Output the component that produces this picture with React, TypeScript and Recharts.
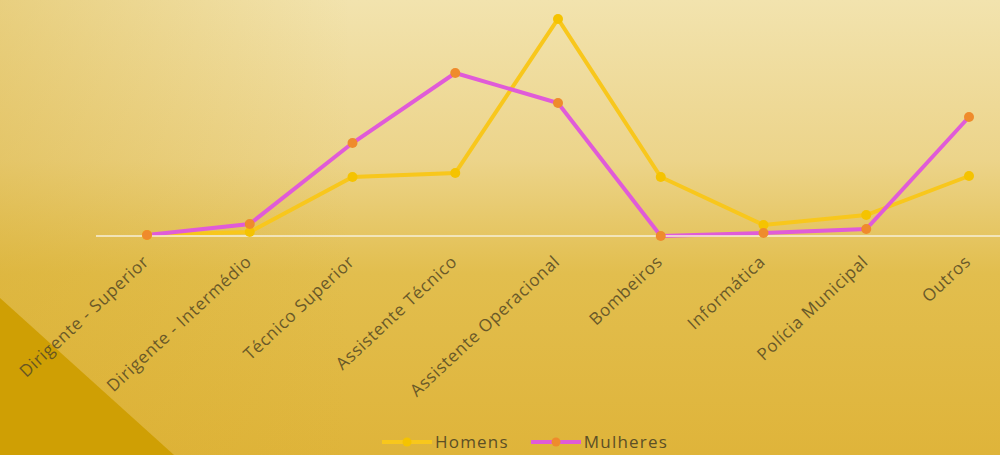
import { LineChart, Line, XAxis, YAxis, Legend } from 'recharts';

const categories = [
  'Dirigente - Superior',
  'Dirigente - Intermédio',
  'Técnico Superior',
  'Assistente Técnico',
  'Assistente Operacional',
  'Bombeiros',
  'Informática',
  'Polícia Municipal',
  'Outros',
];

const homens = [1, 4, 59, 63, 217, 59, 11, 21, 60];
const mulheres = [1, 12, 93, 163, 133, 0, 3, 7, 119];

const data = categories.map((name, i) => ({
  name,
  Homens: homens[i],
  Mulheres: mulheres[i],
}));

const textColor = '#5c4f26';
const font = '"Open Sans", sans-serif';

const AngledTick = ({ x, y, payload }: any) => (
  <g transform={`translate(${x + 3},${y + 19})`}>
    <text
      textAnchor="end"
      transform="rotate(-43)"
      fill={textColor}
      fontSize={17}
      letterSpacing={0.7}
      fontFamily={font}
      opacity={0.9}
    >
      {payload.value}
    </text>
  </g>
);

const legendItems = [
  { label: 'Homens', line: '#f8c71c', dot: '#f5c300' },
  { label: 'Mulheres', line: '#e05bd8', dot: '#ef8b2c' },
];

const LegendContent = () => (
  <div
    style={{
      display: 'flex',
      justifyContent: 'center',
      gap: 22,
      paddingLeft: 50,
      fontFamily: font,
      fontSize: 17,
      color: textColor,
    }}
  >
    {legendItems.map((it) => (
      <div key={it.label} style={{ display: 'flex', alignItems: 'center' }}>
        <svg width={50} height={14}>
          <line x1={0} y1={7} x2={50} y2={7} stroke={it.line} strokeWidth={4} />
          <circle cx={25} cy={7} r={4.5} fill={it.dot} />
        </svg>
        <span style={{ marginLeft: 3, letterSpacing: 1.2 }}>{it.label}</span>
      </div>
    ))}
  </div>
);

export default function App() {
  return (
    <div
      style={{
        position: 'fixed',
        left: 0,
        top: 0,
        width: 1000,
        height: 455,
        overflow: 'hidden',
        background:
          'linear-gradient(90deg, rgba(214,170,40,0.35) 0%, rgba(214,170,40,0) 35%), linear-gradient(180deg, #f2e3ae 0%, #ecd48a 35%, #e2be4e 60%, #dfb43a 100%)',
      }}
    >
      <div
        style={{
          position: 'absolute',
          left: 0,
          top: 0,
          width: 1000,
          height: 455,
          background: '#cf9f04',
          clipPath: 'polygon(0px 298px, 174px 455px, 0px 455px)',
        }}
      />
      <div style={{ position: 'absolute', left: 0, top: 0 }}>
        <LineChart
          width={1020}
          height={455}
          data={data}
          margin={{ top: 0, right: 0, bottom: 0, left: 96 }}
        >
          <XAxis
            dataKey="name"
            interval={0}
            height={219}
            padding={{ left: 51, right: 51 }}
            tickLine={false}
            axisLine={{ stroke: '#f6efd8', strokeWidth: 1.5 }}
            tick={<AngledTick />}
          />
          <YAxis hide domain={[0, 236]} />
          <Legend
            verticalAlign="middle"
            align="center"
            layout="horizontal"
            wrapperStyle={{ top: 430, left: 0, width: 1000 }}
            content={<LegendContent />}
          />
          <Line
            dataKey="Homens"
            stroke="#f8c71c"
            strokeWidth={4}
            dot={{ r: 5, fill: '#f5c300', stroke: 'none' }}
            activeDot={false}
            isAnimationActive={false}
          />
          <Line
            dataKey="Mulheres"
            stroke="#e05bd8"
            strokeWidth={4}
            dot={{ r: 5, fill: '#ef8b2c', stroke: 'none' }}
            activeDot={false}
            isAnimationActive={false}
          />
        </LineChart>
      </div>
    </div>
  );
}
